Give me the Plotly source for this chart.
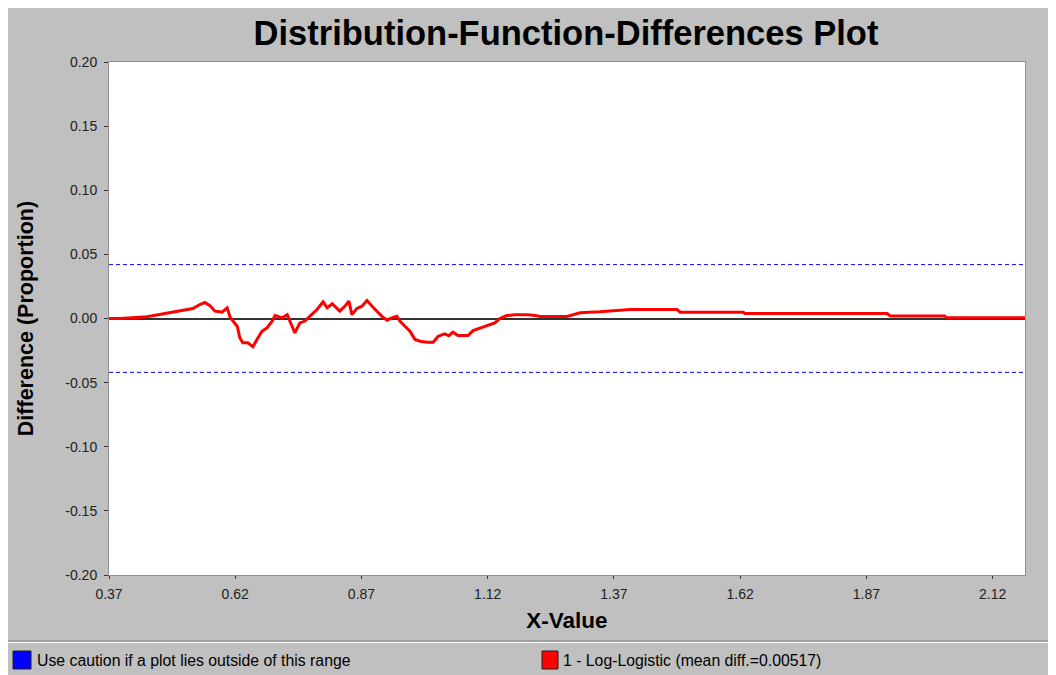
import plotly.graph_objects as go

# ---- data ----
x_vals = [0.370, 0.392, 0.445, 0.491, 0.536, 0.550, 0.560, 0.570, 0.580, 0.594,
          0.604, 0.610, 0.616, 0.624, 0.629, 0.635, 0.645, 0.655, 0.663, 0.673,
          0.683, 0.693, 0.699, 0.713, 0.723, 0.728, 0.738, 0.748, 0.758, 0.768,
          0.782, 0.794, 0.802, 0.812, 0.822, 0.827, 0.837, 0.845, 0.851, 0.861,
          0.871, 0.881, 0.891, 0.903, 0.913, 0.921, 0.930, 0.940, 0.946, 0.956,
          0.966, 0.976, 0.986, 1.000, 1.012, 1.022, 1.035, 1.043, 1.051, 1.061,
          1.081, 1.091, 1.105, 1.121, 1.134, 1.144, 1.158, 1.174, 1.200, 1.214,
          1.224, 1.277, 1.303, 1.342, 1.402, 1.495, 1.501, 1.626, 1.629, 1.911,
          1.917, 2.025, 2.029, 2.184]
diff_vals = [0.0000, 0.0000, 0.0013, 0.0047, 0.0078, 0.0109, 0.0125, 0.0100, 0.0057, 0.0050,
             0.0083, 0.0008, -0.0020, -0.0060, -0.0150, -0.0190, -0.0190, -0.0221, -0.0164, -0.0099,
             -0.0073, -0.0020, 0.0023, 0.0005, 0.0030, -0.0020, -0.0112, -0.0034, -0.0020, 0.0018,
             0.0070, 0.0130, 0.0083, 0.0115, 0.0075, 0.0057, 0.0095, 0.0135, 0.0030, 0.0078,
             0.0096, 0.0141, 0.0096, 0.0052, 0.0008, -0.0013, 0.0005, 0.0018, -0.0020, -0.0060,
             -0.0099, -0.0164, -0.0177, -0.0185, -0.0185, -0.0138, -0.0120, -0.0135, -0.0107, -0.0133,
             -0.0133, -0.0094, -0.0073, -0.0055, -0.0034, 0.0000, 0.0023, 0.0030, 0.0030, 0.0023,
             0.0016, 0.0016, 0.0044, 0.0052, 0.0070, 0.0070, 0.0049, 0.0049, 0.0039, 0.0039,
             0.0020, 0.0020, 0.0005, 0.0005]
caution_level = 0.042
x_range = [0.37, 2.184]
y_range = [-0.20, 0.20]
x_ticks = [0.37, 0.62, 0.87, 1.12, 1.37, 1.62, 1.87, 2.12]
x_tick_text = ["0.37", "0.62", "0.87", "1.12", "1.37", "1.62", "1.87", "2.12"]
y_ticks = [-0.20, -0.15, -0.10, -0.05, 0.00, 0.05, 0.10, 0.15, 0.20]
y_tick_text = ["-0.20", "-0.15", "-0.10", "-0.05", "0.00", "0.05", "0.10", "0.15", "0.20"]
legend_labels = ["Use caution if a plot lies outside of this range",
                 "1 - Log-Logistic (mean diff.=0.00517)"]

FONT = "Liberation Sans, Arial, sans-serif"
OFF = 8  # page body margin
W, H = 1042, 675
# plot area in screen pixels of the reference
SL, ST, SR, SB = 109, 62, 1025, 575
L, T = SL - OFF, ST - OFF
R, B = W - (SR - OFF), H - (SB - OFF)
pw, ph = W - L - R, H - T - B


def px_x(p):  # screen x -> paper
    return (p - OFF - L) / pw


def px_y(p):  # screen y -> paper
    return (H - B - (p - OFF)) / ph


fig = go.Figure()
fig.add_trace(go.Scatter(x=x_range, y=[caution_level, caution_level], mode="lines",
                         line=dict(color="#0000ff", width=1, dash="4px,3px"),
                         hoverinfo="skip", showlegend=False))
fig.add_trace(go.Scatter(x=x_range, y=[-caution_level, -caution_level], mode="lines",
                         line=dict(color="#0000ff", width=1, dash="4px,3px"),
                         hoverinfo="skip", showlegend=False))
fig.add_trace(go.Scatter(x=x_vals, y=diff_vals, mode="lines",
                         line=dict(color="#ff0000", width=3),
                         showlegend=False))

shapes = [
    dict(type="line", xref="paper", yref="paper", x0=px_x(0), x1=px_x(1060),
         y0=px_y(641), y1=px_y(641), line=dict(color="#808080", width=1)),
    dict(type="line", xref="paper", yref="paper", x0=px_x(0), x1=px_x(1060),
         y0=px_y(642.5), y1=px_y(642.5), line=dict(color="#ffffff", width=1)),
    dict(type="rect", xref="paper", yref="paper", x0=px_x(13), x1=px_x(31),
         y0=px_y(669), y1=px_y(651), fillcolor="#0000ff", line=dict(color="#202020", width=1)),
    dict(type="rect", xref="paper", yref="paper", x0=px_x(542), x1=px_x(558),
         y0=px_y(669), y1=px_y(651), fillcolor="#ff0000", line=dict(color="#202020", width=1)),
]

annotations = [
    dict(text=legend_labels[0], xref="paper", yref="paper", x=px_x(35), y=px_y(660),
         xanchor="left", yanchor="middle", showarrow=False,
         font=dict(family=FONT, size=15.8, color="#000000")),
    dict(text=legend_labels[1], xref="paper", yref="paper", x=px_x(561), y=px_y(660),
         xanchor="left", yanchor="middle", showarrow=False,
         font=dict(family=FONT, size=15.8, color="#000000")),
]

fig.update_layout(
    width=W, height=H,
    margin=dict(l=L, r=R, t=T, b=B),
    paper_bgcolor="#c0c0c0",
    plot_bgcolor="#ffffff",
    title=dict(text="<b>Distribution-Function-Differences Plot</b>",
               x=(566 - OFF) / W, xanchor="center",
               y=1 - (33 - OFF) / H, yanchor="middle",
               font=dict(family=FONT, size=34.5, color="#000000")),
    shapes=shapes,
    annotations=annotations,
    showlegend=False,
)

fig.update_xaxes(
    range=x_range, tickvals=x_ticks, ticktext=x_tick_text,
    showgrid=False, zeroline=False,
    showline=True, linecolor="#909090", linewidth=1, mirror=True,
    ticks="outside", ticklen=3, tickcolor="#333333", ticklabelstandoff=3,
    tickfont=dict(family=FONT, size=14, color="#222222"),
    title=dict(text="<b>X-Value</b>", font=dict(family=FONT, size=22.5, color="#000000"),
               standoff=11),
)
fig.update_yaxes(
    range=y_range, tickvals=y_ticks, ticktext=y_tick_text,
    showgrid=False,
    zeroline=True, zerolinecolor="#333333", zerolinewidth=1.5,
    showline=True, linecolor="#909090", linewidth=1, mirror=True,
    ticks="outside", ticklen=4, tickcolor="#333333", ticklabelstandoff=4,
    tickfont=dict(family=FONT, size=14, color="#222222"),
    title=dict(text="<b>Difference (Proportion)</b>",
               font=dict(family=FONT, size=21.5, color="#000000"), standoff=25),
)

fig.write_html("out.html")
